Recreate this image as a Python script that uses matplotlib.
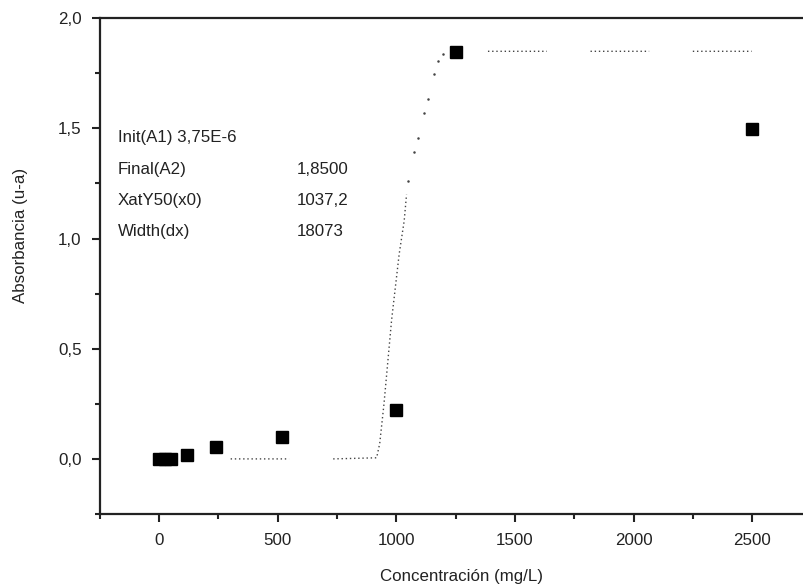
import numpy as np
import matplotlib
matplotlib.use("Agg")
import matplotlib.pyplot as plt
from matplotlib.ticker import MultipleLocator, FixedLocator, FixedFormatter

plt.rcParams['font.family'] = ['Liberation Sans', 'DejaVu Sans']

# measured points (squares)
conc = [0, 25, 50, 120, 240, 520, 998, 1250, 2500]
absorb = [0.0, 0.0, 0.0, 0.016, 0.053, 0.101, 0.22, 1.848, 1.497]

# fitted curve (NaN = gap in the dotted trace)
fit_x = [55, 78, np.nan, 302, 548, np.nan, 734, 917, 930, 948, 980, 1012, 1033, 1043,
         np.nan, 1386, 1634, np.nan, 1818, 2065, np.nan, 2249, 2497]
fit_y = [0, 0, np.nan, 0, 0, np.nan, 0, 0.005, 0.07, 0.25, 0.63, 0.93, 1.08, 1.2,
         np.nan, 1.85, 1.85, np.nan, 1.85, 1.85, np.nan, 1.85, 1.85]
# loose dots on the steep part of the fit
fit_dots_x = [1050, 1076, 1092, 1118, 1133, 1158, 1177, 1196]
fit_dots_y = [1.262, 1.391, 1.455, 1.568, 1.632, 1.745, 1.807, 1.839]

yticks = [0.0, 0.5, 1.0, 1.5, 2.0]
ytick_labels = ['0,0', '0,5', '1,0', '1,5', '2,0']
xticks = [0, 500, 1000, 1500, 2000, 2500]
xtick_labels = ['0', '500', '1000', '1500', '2000', '2500']

params = ['Init(A1) 3,75E-6', 'Final(A2)', 'XatY50(x0)', 'Width(dx)']
param_vals = ['', '1,8500', '1037,2', '18073']

fig = plt.figure(figsize=(8.04, 5.87), dpi=100)
ax = fig.add_axes([0.1239, 0.1244, 0.9005, 0.8445])

txt = '#222222'
fs = 12.2
ax.plot(fit_x, fit_y, color='#444444', lw=1.0, ls=(0, (1, 2)))
ax.plot(fit_dots_x, fit_dots_y, ls='none', marker='o', ms=1.8, color='#444444', mec='none')
ax.plot(conc, absorb, ls='none', marker='s', ms=8.0, color='black')

ax.set_xlim(-250, 2800)
ax.set_ylim(-0.25, 2.0)

ax.xaxis.set_major_locator(FixedLocator(xticks))
ax.xaxis.set_major_formatter(FixedFormatter(xtick_labels))
ax.xaxis.set_minor_locator(MultipleLocator(250))
ax.yaxis.set_major_locator(FixedLocator(yticks))
ax.yaxis.set_major_formatter(FixedFormatter(ytick_labels))
ax.yaxis.set_minor_locator(MultipleLocator(0.25))

ax.tick_params(which='major', direction='out', length=6, width=1.5, pad=7,
               labelsize=fs, labelcolor=txt, color='#222222')
ax.tick_params(which='minor', direction='out', length=3.5, width=1.5, color='#222222')
ax.tick_params(axis='x', which='major', pad=8)

for side in ['left', 'bottom', 'top']:
    ax.spines[side].set_linewidth(1.6)
    ax.spines[side].set_color('#222222')
ax.spines['right'].set_visible(False)

ax.set_xlabel('Concentración (mg/L)', fontsize=fs, color=txt)
ax.set_ylabel('Absorbancia (u-a)', fontsize=fs, color=txt)
ax.yaxis.set_label_coords(-0.0985, 0.561)
ax.xaxis.labelpad = 14.5

rows_y = [1.46, 1.315, 1.175, 1.03]
for name, val, yy in zip(params, param_vals, rows_y):
    ax.text(-173, yy, name, fontsize=fs, color=txt, va='center', ha='left')
    if val:
        ax.text(581, yy, val, fontsize=fs, color=txt, va='center', ha='left')

fig.savefig('out.png', dpi=100)
